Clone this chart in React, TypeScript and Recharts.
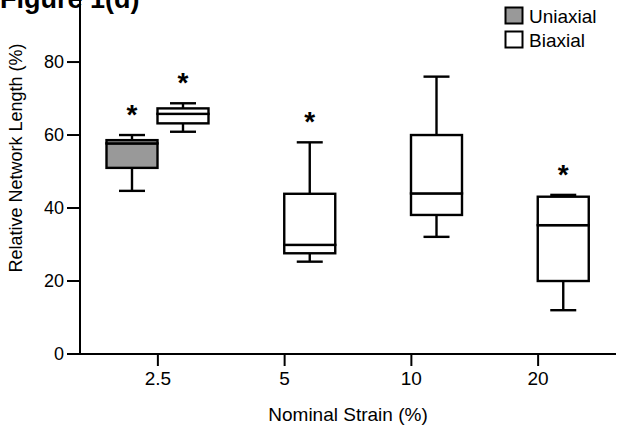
import React from 'react';
import { ComposedChart, Bar, XAxis, YAxis, LabelList, Label } from 'recharts';

// strain levels on the x axis
const categories = ['2.5', '5', '10', '20'];

// uniaxial box stats (only tested at 2.5%)
const uniMin = [44.7, null, null, null];
const uniQ1 = [51.0, null, null, null];
const uniMed = [57.7, null, null, null];
const uniQ3 = [58.6, null, null, null];
const uniMax = [60.0, null, null, null];
const uniSig = [true, false, false, false];

// biaxial box stats
const biMin = [60.9, 25.3, 32.1, 12.0];
const biQ1 = [63.2, 27.6, 38.1, 20.0];
const biMed = [65.8, 29.9, 44.0, 35.3];
const biQ3 = [67.3, 43.9, 60.0, 43.1];
const biMax = [68.7, 58.0, 76.0, 43.6];
const biSig = [true, true, false, true];

const yTicks = [0, 20, 40, 60, 80];

const diff = (a: number | null, b: number | null) => (a == null || b == null ? null : a - b);

const data = categories.map((cat, i) => ({
  cat,
  u_base: uniMin[i],
  u_lw: diff(uniQ1[i], uniMin[i]),
  u_lb: diff(uniMed[i], uniQ1[i]),
  u_ub: diff(uniQ3[i], uniMed[i]),
  u_uw: diff(uniMax[i], uniQ3[i]),
  u_sig: uniSig[i] ? '*' : '',
  b_base: biMin[i],
  b_lw: diff(biQ1[i], biMin[i]),
  b_lb: diff(biMed[i], biQ1[i]),
  b_ub: diff(biQ3[i], biMed[i]),
  b_uw: diff(biMax[i], biQ3[i]),
  b_sig: biSig[i] ? '*' : '',
}));

const FONT = 'Arial, "Liberation Sans", sans-serif';
const SW = 2.4;
const CAP = 13;

const empty = () => <g />;

const lowWhisker = (key: string) => (p: any) => {
  if (p.payload?.[key] == null) return <g />;
  const cx = p.x + p.width / 2;
  const top = p.y;
  const bot = p.y + p.height;
  return (
    <g stroke="#000" strokeWidth={SW}>
      <line x1={cx} x2={cx} y1={top} y2={bot} />
      <line x1={cx - CAP} x2={cx + CAP} y1={bot} y2={bot} />
    </g>
  );
};

const highWhisker = (key: string) => (p: any) => {
  if (p.payload?.[key] == null) return <g />;
  const cx = p.x + p.width / 2;
  const top = p.y;
  const bot = p.y + p.height;
  return (
    <g stroke="#000" strokeWidth={SW}>
      <line x1={cx} x2={cx} y1={top} y2={bot} />
      <line x1={cx - CAP} x2={cx + CAP} y1={top} y2={top} />
    </g>
  );
};

const boxPart = (key: string, fill: string) => (p: any) => {
  if (p.payload?.[key] == null) return <g />;
  return (
    <rect x={p.x} y={p.y} width={p.width} height={p.height}
      fill={fill} stroke="#000" strokeWidth={SW} />
  );
};

const star = (p: any) => {
  if (!p.value) return null;
  return (
    <text x={p.x + p.width / 2} y={p.y - 11} textAnchor="middle"
      fontFamily={FONT} fontWeight="bold" fontSize={28} fill="#000">
      *
    </text>
  );
};

const yLabel = (p: any) => {
  const vb = p.viewBox;
  const cx = 22;
  const cy = vb.y + vb.height / 2 - 19;
  return (
    <text x={cx} y={cy} transform={`rotate(-90, ${cx}, ${cy})`} textAnchor="middle"
      fontFamily={FONT} fontSize={18} fill="#000">
      Relative Network Length (%)
    </text>
  );
};

const xLabel = (p: any) => {
  const vb = p.viewBox;
  return (
    <text x={vb.x + vb.width / 2} y={421} textAnchor="middle"
      fontFamily={FONT} fontSize={19} fill="#000">
      Nominal Strain (%)
    </text>
  );
};

function Overlay() {
  return (
    <svg width={617} height={425} style={{ position: 'absolute', left: 0, top: 0, pointerEvents: 'none' }}>
      <text x={0} y={8} fontFamily={FONT} fontWeight="bold" fontSize={27} fill="#000">Figure 1(d)</text>
      <rect x={505.5} y={7.5} width={17} height={16} fill="#999" stroke="#000" strokeWidth={2} />
      <text x={529} y={23} fontFamily={FONT} fontSize={19} fill="#000">Uniaxial</text>
      <rect x={505.5} y={31.5} width={17} height={16} fill="#fff" stroke="#000" strokeWidth={2} />
      <text x={529} y={47} fontFamily={FONT} fontSize={19} fill="#000">Biaxial</text>
    </svg>
  );
}

export default function App() {
  const xTick = { fill: '#000', fontSize: 19, fontFamily: FONT };
  const yTick = { fill: '#000', fontSize: 18, fontFamily: FONT };
  return (
    <div style={{ position: 'absolute', left: 0, top: 0, width: 617, height: 425, background: '#fff' }}>
      <ComposedChart width={617} height={425} data={data} barGap={0} barSize={51}
        margin={{ top: 0, right: 1, left: 0, bottom: 0 }}>
        <XAxis dataKey="cat" type="category" height={71} padding={{ left: 14.5, right: 14.5 }}
          tick={xTick} tickSize={12} tickMargin={6}
          axisLine={{ stroke: '#000', strokeWidth: 2 }} tickLine={{ stroke: '#000', strokeWidth: 2 }}>
          <Label content={xLabel} />
        </XAxis>
        <YAxis yAxisId="left" width={80} domain={[0, 97]} ticks={yTicks} interval={0}
          tick={yTick} tickSize={13} tickMargin={3}
          axisLine={{ stroke: '#000', strokeWidth: 2 }} tickLine={{ stroke: '#000', strokeWidth: 2 }}>
          <Label content={yLabel} />
        </YAxis>
        <YAxis yAxisId="right" orientation="right" width={0} domain={[0, 97]} tick={false}
          tickLine={false} axisLine={{ stroke: '#999', strokeWidth: 1.5 }} />

        <Bar yAxisId="left" dataKey="u_base" stackId="u" shape={empty} isAnimationActive={false} />
        <Bar yAxisId="left" dataKey="u_lw" stackId="u" shape={lowWhisker('u_lw')} isAnimationActive={false} />
        <Bar yAxisId="left" dataKey="u_lb" stackId="u" shape={boxPart('u_lb', '#999')} isAnimationActive={false} />
        <Bar yAxisId="left" dataKey="u_ub" stackId="u" shape={boxPart('u_ub', '#999')} isAnimationActive={false} />
        <Bar yAxisId="left" dataKey="u_uw" stackId="u" shape={highWhisker('u_uw')} isAnimationActive={false}>
          <LabelList dataKey="u_sig" content={star} />
        </Bar>

        <Bar yAxisId="left" dataKey="b_base" stackId="b" shape={empty} isAnimationActive={false} />
        <Bar yAxisId="left" dataKey="b_lw" stackId="b" shape={lowWhisker('b_lw')} isAnimationActive={false} />
        <Bar yAxisId="left" dataKey="b_lb" stackId="b" shape={boxPart('b_lb', '#fff')} isAnimationActive={false} />
        <Bar yAxisId="left" dataKey="b_ub" stackId="b" shape={boxPart('b_ub', '#fff')} isAnimationActive={false} />
        <Bar yAxisId="left" dataKey="b_uw" stackId="b" shape={highWhisker('b_uw')} isAnimationActive={false}>
          <LabelList dataKey="b_sig" content={star} />
        </Bar>
      </ComposedChart>
      <Overlay />
    </div>
  );
}
